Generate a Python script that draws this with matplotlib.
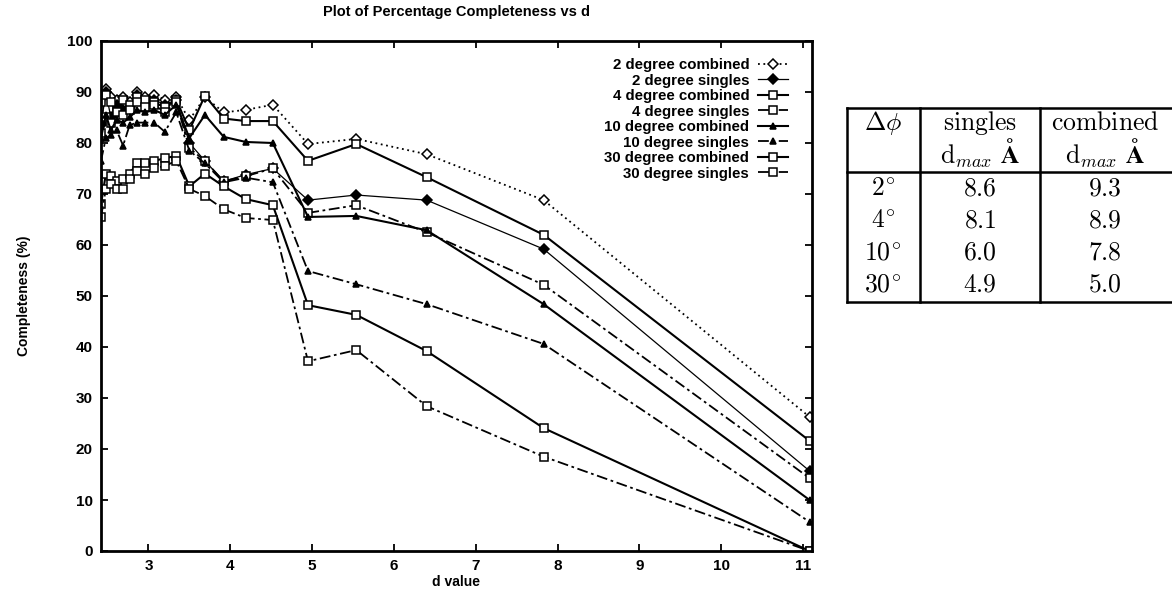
import matplotlib
matplotlib.use("Agg")
import matplotlib.pyplot as plt
from matplotlib.lines import Line2D

plt.rcParams['font.family'] = ['Liberation Sans', 'DejaVu Sans']
plt.rcParams['font.weight'] = 'bold'
plt.rcParams['mathtext.fontset'] = 'cm'

# d value of each resolution shell
d_values = [2.42, 2.48, 2.54, 2.61, 2.69, 2.77, 2.86, 2.96, 3.07, 3.20, 3.34,
            3.50, 3.69, 3.92, 4.19, 4.52, 4.95, 5.54, 6.40, 7.83, 11.08]

# completeness (%) per series
deg2_combined = [84.0, 90.5, 89.0, 88.5, 89.0, 88.0, 90.0, 89.0, 89.5, 88.5, 89.0,
                 84.5, 89.0, 86.0, 86.5, 87.5, 79.8, 80.8, 77.8, 68.8, 26.3]
deg2_singles = [83.5, 90.0, 85.0, 87.5, 86.5, 87.0, 89.5, 88.0, 88.5, 87.5, 88.5,
                80.0, 76.5, 72.5, 73.8, 75.0, 68.8, 69.8, 68.8, 59.2, 15.7]
deg4_combined = [88.0, 89.5, 88.0, 86.0, 88.5, 87.5, 89.0, 88.5, 88.0, 87.0, 88.5,
                 82.5, 89.3, 84.8, 84.3, 84.3, 76.5, 79.8, 73.3, 62.0, 21.6]
deg4_singles = [82.0, 85.0, 84.0, 86.0, 85.5, 86.5, 88.0, 87.0, 87.5, 86.0, 88.0,
                79.0, 76.5, 72.5, 73.5, 75.0, 66.3, 67.8, 62.5, 52.2, 14.3]
deg10_combined = [81.0, 85.5, 82.5, 84.5, 84.0, 85.0, 86.5, 86.0, 86.5, 85.5, 87.5,
                  81.0, 85.5, 81.2, 80.2, 80.0, 65.5, 65.7, 62.9, 48.4, 10.0]
deg10_singles = [76.5, 81.0, 81.5, 82.5, 79.5, 83.5, 84.0, 84.0, 84.0, 82.2, 86.0,
                 78.5, 76.0, 72.3, 73.2, 72.3, 54.9, 52.3, 48.4, 40.6, 5.7]
deg30_combined = [68.0, 74.0, 73.5, 72.5, 73.0, 74.0, 76.0, 76.0, 76.5, 77.0, 77.5,
                  71.5, 74.0, 71.5, 69.0, 67.8, 48.2, 46.3, 39.2, 24.1, 0.0]
deg30_singles = [65.5, 71.0, 72.0, 71.0, 71.0, 73.0, 74.5, 74.0, 75.0, 75.5, 76.5,
                 71.0, 69.6, 67.0, 65.3, 64.9, 37.2, 39.4, 28.4, 18.5, 0.0]

# table on the right
table_phi = ['2', '4', '10', '30']
table_singles = ['8.6', '8.1', '6.0', '4.9']
table_combined = ['9.3', '8.9', '7.8', '5.0']

dashdot = (0, (6, 2, 1.5, 2))
series = [
    ("2 degree combined", deg2_combined, (0, (1, 2)), 'D', 'white', 1.3),
    ("2 degree singles", deg2_singles, '-', 'D', 'black', 0.9),
    ("4 degree combined", deg4_combined, '-', 's', 'white', 1.5),
    ("4 degree singles", deg4_singles, dashdot, 's', 'white', 1.3),
    ("10 degree combined", deg10_combined, '-', '^', 'black', 1.5),
    ("10 degree singles", deg10_singles, dashdot, '^', 'black', 1.3),
    ("30 degree combined", deg30_combined, '-', 's', 'white', 1.5),
    ("30 degree singles", deg30_singles, dashdot, 's', 'white', 1.3),
]

W, H = 1172, 589
fig = plt.figure(figsize=(W / 100, H / 100), dpi=100)
ax = fig.add_axes([101 / W, 1 - 551 / H, (812 - 101) / W, (551 - 41) / H])

for label, vals, ls, mk, fc, lw in series:
    ax.plot(d_values, vals, color='black', linestyle=ls, linewidth=lw,
            marker=mk, markersize=5.5 if mk == 's' else 5,
            markerfacecolor=fc, markeredgecolor='black', markeredgewidth=1.1,
            label=label)

ax.set_xlim(d_values[0], 11.11)
ax.set_ylim(0, 100)
ax.set_xticks(range(3, 12))
ax.set_yticks(range(0, 101, 10))
ax.tick_params(direction='in', top=True, right=True, length=5, width=1.3,
               labelsize=11, pad=6)
for s in ax.spines.values():
    s.set_linewidth(2)

ax.set_title("Plot of Percentage Completeness vs d", fontsize=10.5,
             fontweight='bold', pad=18)
ax.set_xlabel("d value", fontsize=10, fontweight='bold', labelpad=1)
ax.set_ylabel("Completeness (%)", fontsize=10, fontweight='bold', labelpad=26)

leg = ax.legend(loc='upper right', bbox_to_anchor=(0.975, 0.978),
                markerfirst=False, frameon=False, fontsize=10.8,
                handlelength=2.0, handletextpad=0.6, labelspacing=0.1,
                borderaxespad=0)
for t in leg.get_texts():
    t.set_ha('right')
leg._legend_box.align = 'right'

# table drawn in pixel coordinates
def fx(px):
    return px / W

def fy(py):
    return 1 - py / H

tab_left, tab_c1, tab_c2, tab_right = 847, 920, 1040, 1172
tab_top, tab_head, tab_bottom = 108, 172, 302
for x0, y0, x1, y1 in [(tab_left, tab_top, tab_right, tab_top),
                       (tab_left, tab_head, tab_right, tab_head),
                       (tab_left, tab_bottom, tab_right, tab_bottom),
                       (tab_left, tab_top, tab_left, tab_bottom),
                       (tab_c1, tab_top, tab_c1, tab_bottom),
                       (tab_c2, tab_top, tab_c2, tab_bottom)]:
    fig.add_artist(Line2D([fx(x0), fx(x1)], [fy(y0), fy(y1)], color='black',
                          linewidth=1.8, transform=fig.transFigure))

tsize = 18.5
col_x = [883, 980, 1105]
kw = dict(fontsize=tsize, ha='center', va='baseline')
fig.text(fx(col_x[0]), fy(130), r'$\Delta\phi$', **kw)
fig.text(fx(col_x[1]), fy(130), r'$\mathrm{singles}$', **kw)
fig.text(fx(col_x[2]), fy(130), r'$\mathrm{combined}$', **kw)
fig.text(fx(col_x[1]), fy(164), r'$\mathrm{d}_{max}\ \mathrm{\AA}$', **kw)
fig.text(fx(col_x[2]), fy(164), r'$\mathrm{d}_{max}\ \mathrm{\AA}$', **kw)
row_base = [195, 227, 260, 292]
for i in range(4):
    fig.text(fx(col_x[0]), fy(row_base[i]), r'$\mathbf{%s}^{\!\circ}$' % table_phi[i], **kw)
    fig.text(fx(col_x[1]), fy(row_base[i]), r'$%s$' % table_singles[i], **kw)
    fig.text(fx(col_x[2]), fy(row_base[i]), r'$%s$' % table_combined[i], **kw)

fig.savefig("out.png", dpi=100)
